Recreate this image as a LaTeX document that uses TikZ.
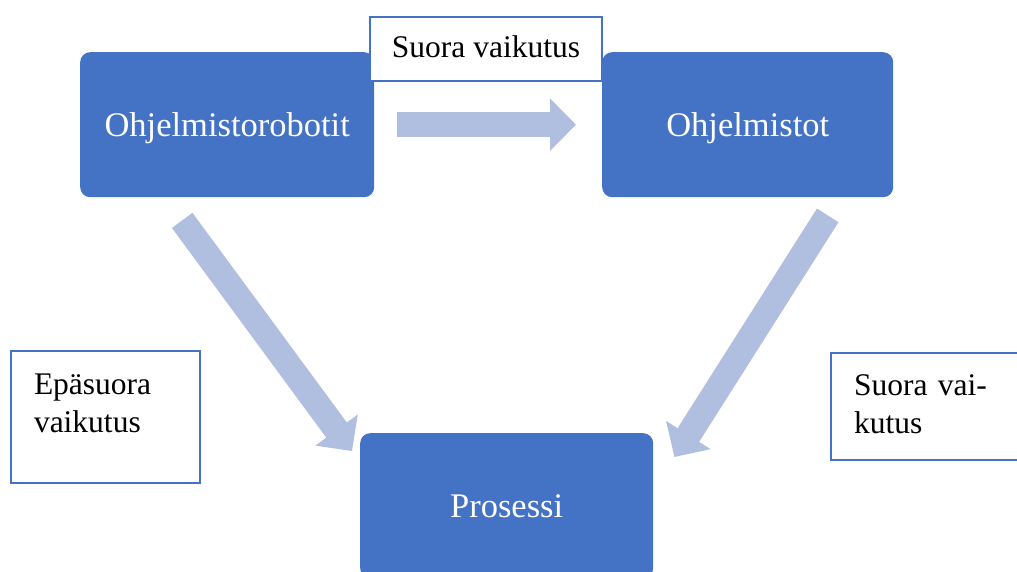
\documentclass[tikz,border=0pt]{standalone}
\usepackage{fontspec}
\setmainfont{Liberation Serif}
\usetikzlibrary{arrows.meta}
\definecolor{boxblue}{HTML}{4472C4}
\definecolor{arrowblue}{RGB}{176,190,224}
\begin{document}
\begin{tikzpicture}[x=1pt,y=-1pt,
  mainbox/.style={fill=boxblue, rounded corners=10pt, text=white,
    font=\fontsize{34.5}{40}\selectfont, inner sep=0pt, anchor=north west,
    minimum height=145pt, text height=30pt, text depth=7pt},
  labelbox/.style={draw=boxblue, line width=2pt, fill=white,
    font=\fontsize{31.5}{38}\selectfont, anchor=north west, align=left,
    inner xsep=23pt, inner ysep=0pt},
  bigarrow/.style={draw=arrowblue, line width=25.5pt,
    -{Triangle[width=51pt,length=26pt]}}]
\useasboundingbox (0,0) rectangle (1017,572);
\clip (0,0) rectangle (1017,572);
\fill[white] (0,0) rectangle (1017,572);
% main boxes
\node[mainbox, minimum width=294pt] (rob) at (80,52) {Ohjelmistorobotit};
\node[mainbox, minimum width=291pt] (ohj) at (602,52) {Ohjelmistot};
\node[mainbox, minimum width=293pt] (pro) at (360,433) {Prosessi};
% label boxes
\node[labelbox, align=center, inner xsep=0pt, minimum width=232pt,
  minimum height=64pt, text height=24pt, text depth=6pt] (top) at (369,16) {Suora vaikutus};
\node[labelbox, text width=143pt, text height=43pt, text depth=89pt] (left) at (10,350)
  {Epäsuora\\vaikutus};
\node[labelbox, text width=200pt, text height=42pt, text depth=65pt] (right) at (830,352)
  {Suora vai-\\kutus};
% arrows
\draw[bigarrow] ([xshift=23pt]rob.east) -- ([xshift=-26pt]ohj.west);
\draw[bigarrow] ([shift={(-45pt,-23pt)}]rob.south) -- ([shift={(-8pt,-18pt)}]pro.north west);
\draw[bigarrow] ([shift={(80pt,-18pt)}]ohj.south) -- ([shift={(21pt,-24pt)}]pro.north east);
\end{tikzpicture}
\end{document}
